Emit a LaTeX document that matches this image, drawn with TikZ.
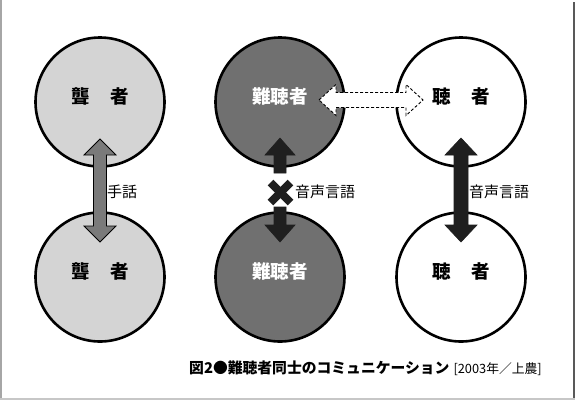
\documentclass[tikz,border=0pt]{standalone}
\usepackage{fontspec}
\setmainfont{Noto Sans CJK JP}
\begin{document}
\begin{tikzpicture}[x=1pt,y=-1pt,
  person/.style={circle,draw=black,line width=2.6pt,minimum size=129pt,inner sep=0pt},
  plight/.style={person,fill=black!17},
  pdark/.style={person,fill=black!56},
  pwhite/.style={person,fill=white},
  pname/.style={font=\fontsize{18.5}{20}\selectfont\bfseries,inner sep=0pt},
  lbl/.style={font=\fontsize{15}{17}\selectfont,inner sep=0pt,anchor=west},
  grayarrow/.style={fill=black!52,draw=black,line width=0.8pt,line join=miter},
  blackarrow/.style={fill=black!88,draw=black!88,line width=0.6pt},
  dasharrow/.style={fill=white,draw=black,line width=0.9pt,dash pattern=on 3pt off 2pt}]
\useasboundingbox (0,0) rectangle (575,400);
\fill[white] (0,0) rectangle (575,400);
% frame lines
\draw[black!35,line width=1.5pt] (0.75,0) -- (0.75,400);
\draw[black!65,line width=2pt] (574,2) -- (574,400);
\draw[black!22,line width=1.5pt] (0,399) -- (575,399);
% circles
\node[plight] (d1) at (100,102) {};
\node[plight] (d2) at (100,277) {};
\node[pdark]  (h1) at (280,102) {};
\node[pdark]  (h2) at (280,277) {};
\node[pwhite] (k1) at (461,102) {};
\node[pwhite] (k2) at (461,277) {};
\node[pname] (td1) at ([yshift=6pt]d1.center) {聾\hspace{1.1em}者};
\node[pname] (td2) at ([yshift=6pt]d2.center) {聾\hspace{1.1em}者};
\node[pname,text=white] (th1) at ([yshift=6pt]h1.center) {難聴者};
\node[pname,text=white] (th2) at ([yshift=6pt]h2.center) {難聴者};
\node[pname] (tk1) at ([yshift=6pt]k1.center) {聴\hspace{1.1em}者};
\node[pname] (tk2) at ([yshift=6pt]k2.center) {聴\hspace{1.1em}者};
% left gray double arrow
\coordinate (gt) at (100,139);
\draw[grayarrow] (gt) -- ++(16,16) -- ++(-9.5,0) -- ++(0,71) -- ++(9.5,0) -- ++(-16,16)
  -- ++(-16,-16) -- ++(9.5,0) -- ++(0,-71) -- ++(-9.5,0) -- cycle;
\node[lbl] (l1) at (107,192) {手話};
% middle broken arrows
\coordinate (mu) at (280,138);
\coordinate (md) at (280,242);
\draw[blackarrow] (mu) -- ++(15,17) -- ++(-9,0) -- ++(0,18) -- ++(-12,0) -- ++(0,-18) -- ++(-9,0) -- cycle;
\draw[blackarrow] (md) -- ++(15,-17) -- ++(-9,0) -- ++(0,-18) -- ++(-12,0) -- ++(0,18) -- ++(-9,0) -- cycle;
\coordinate (mx) at (280.5,192.5);
\draw[black!88,line width=8pt] ([shift={(-10,-10)}]mx) -- ([shift={(10,10)}]mx);
\draw[black!88,line width=8pt] ([shift={(-10,10)}]mx) -- ([shift={(10,-10)}]mx);
\node[lbl] (l2) at (295,192) {音声言語};
% right black double arrow
\coordinate (rt) at (461,138);
\draw[blackarrow] (rt) -- ++(16,17) -- ++(-9,0) -- ++(0,70) -- ++(9,0) -- ++(-16,17)
  -- ++(-16,-17) -- ++(9,0) -- ++(0,-70) -- ++(-9,0) -- cycle;
\node[lbl] (l3) at (469,192) {音声言語};
% horizontal dashed arrow
\coordinate (ht) at (319,100);
\draw[dasharrow] (ht) -- ++(17,-15.5) -- ++(0,8) -- ++(70,0) -- ++(0,-8) -- ++(17,15.5)
  -- ++(-17,15.5) -- ++(0,-8) -- ++(-70,0) -- ++(0,8) -- cycle;
% caption
\node[anchor=west,inner sep=0pt] (cap) at (189,368)
  {{\fontsize{14.8}{16}\selectfont\bfseries 図2●難聴者同士のコミュニケーション}\hspace{4pt}{\fontsize{12.8}{14}\selectfont [2003年／上農]}};
\end{tikzpicture}
\end{document}
